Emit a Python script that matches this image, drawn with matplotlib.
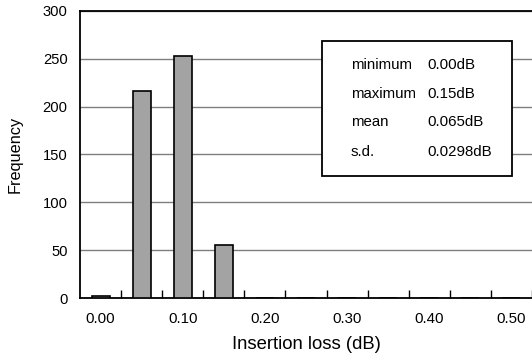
import matplotlib
matplotlib.use("Agg")
import matplotlib.pyplot as plt
from matplotlib.patches import Rectangle

plt.rcParams['font.family'] = ['Liberation Sans', 'DejaVu Sans']

categories = ["0.00", "0.05", "0.10", "0.15", "0.20", "0.25", "0.30", "0.35", "0.40", "0.45", "0.50"]
counts = [2, 216, 253, 55, 0, 0, 0, 0, 0, 0, 0]
yticks = [0, 50, 100, 150, 200, 250, 300]
stat_names = ["minimum", "maximum", "mean", "s.d."]
stat_values = ["0.00dB", "0.15dB", "0.065dB", "0.0298dB"]

W, H = 532, 359
fig = plt.figure(figsize=(W / 100, H / 100), dpi=100)
ax = fig.add_axes([80 / W, 1 - 298 / H, (532 - 80) / W, (298 - 11) / H])

x = list(range(len(categories)))
ax.bar(x, counts, width=0.44, color="#a3a3a3", edgecolor="black", linewidth=1.2, zorder=3)

ax.set_xlim(-0.5, len(categories) - 0.5)
ax.set_ylim(0, 300)
ax.set_yticks(yticks)
ax.set_yticklabels([str(v) for v in yticks], fontsize=10.6)
ax.tick_params(axis="y", length=0, pad=9)
ax.yaxis.grid(True, color="#7f7f7f", linewidth=1.0, zorder=0)
ax.set_axisbelow(True)

ax.set_xticks(x[::2])
ax.set_xticklabels(categories[::2], fontsize=10.8)
ax.tick_params(axis="x", which="major", length=0, pad=10)
ax.set_xticks([i + 0.5 for i in x], minor=True)
ax.tick_params(axis="x", which="minor", direction="in", length=5.5, width=1.0, color="black")

for s in ["left", "bottom", "top"]:
    ax.spines[s].set_color("black")
    ax.spines[s].set_linewidth(1.3)
ax.spines["right"].set_visible(False)

ax.set_xlabel("Insertion loss (dB)", fontsize=13.3, labelpad=7)
ax.set_ylabel("Frequency", fontsize=11.7, labelpad=14)

# statistics box
bx0, bx1, by0, by1 = 322, 512, 41, 176
fig.patches.append(Rectangle((bx0 / W, 1 - by1 / H), (bx1 - bx0) / W, (by1 - by0) / H,
                             transform=fig.transFigure, facecolor="white", edgecolor="black",
                             linewidth=1.3, zorder=5))
row_y = [65, 94, 122, 151.5]
for name, val, yy in zip(stat_names, stat_values, row_y):
    fig.text(351 / W, 1 - yy / H, name, fontsize=10.8, va="center", ha="left", zorder=6)
    fig.text(427 / W, 1 - yy / H, val, fontsize=10.8, va="center", ha="left", zorder=6)

fig.savefig("out.png", dpi=100)
